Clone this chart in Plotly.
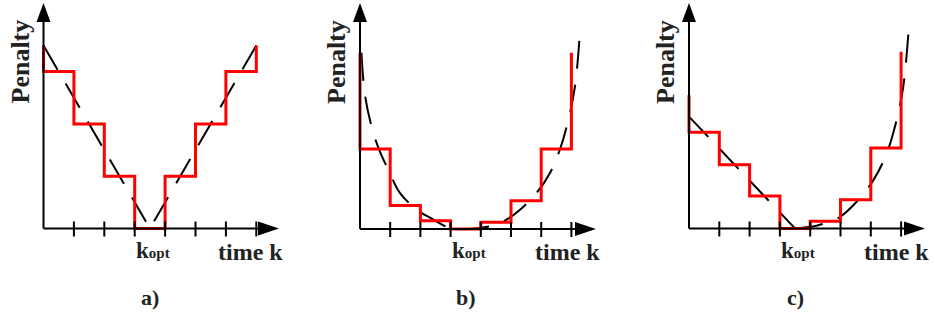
import plotly.graph_objects as go

W, H = 935, 320

# ---- data -------------------------------------------------------------
k_ticks = [1, 2, 3, 4, 5, 6, 7]

# a) penalty linear in |k - k_opt|
curve_a_k = [0, 3.5, 7]
curve_a_y = [3.5, 0.0, 3.5]
steps_a = [3, 2, 1, 0, 1, 2, 3]
start_a, end_a = 3.5, 3.5

# b) convex penalty
curve_b_k = [0.05, 0.17, 0.44, 0.66, 0.94, 1.32, 1.88, 2.43, 2.98, 3.6,
             4.30, 4.75, 5.30, 5.85, 6.29, 6.62, 6.90, 7.12, 7.28]
curve_b_y = [3.37, 2.54, 1.84, 1.48, 1.13, 0.69, 0.37, 0.18, 0.02, 0.0,
             0.05, 0.145, 0.37, 0.69, 1.07, 1.52, 2.09, 2.73, 3.75]
steps_b = [1.53, 0.45, 0.16, 0.0, 0.13, 0.54, 1.53]
start_b, end_b = 3.37, 3.37

# c) linear before k_opt, convex after
curve_c_left_k = [0.0, 3.5]
curve_c_left_y = [2.14, 0.0]
curve_c_right_k = [3.5, 4.27, 4.98, 5.53, 6.08, 6.52, 6.85, 7.07, 7.24]
curve_c_right_y = [0.0, 0.063, 0.22, 0.51, 0.92, 1.43, 2.07, 2.71, 3.73]
steps_c = [1.84, 1.22, 0.62, 0.0, 0.14, 0.55, 1.54]
start_c, end_c = 2.55, 3.38

panel_labels = ["a)", "b)", "c)"]

# ---- geometry (pixels) ------------------------------------------------
Y_UNIT = 52.3          # px per penalty unit
panels = [
    # px_left, px_right, origin_x, origin_y, px per k, x-arrow tip
    dict(l=0, r=310, ox=43.5, oy=228.5, dx=30.4, tip=279),
    dict(l=310, r=620, ox=360.0, oy=229.0, dx=30.2, tip=596),
    dict(l=620, r=935, ox=689.0, oy=228.5, dx=30.3, tip=925),
]

RED = "#ff0000"
DASH = "28px,16px"
SERIF = "Liberation Serif"


def P(px, py):
    return px / W, 1 - py / H


def step_trace(levels, start, end, xa, ya):
    xs = [0] + list(range(len(levels))) + [len(levels)]
    ys = [start] + list(levels) + [end]
    return go.Scatter(x=xs, y=ys, mode="lines", line_shape="hv",
                      line=dict(color=RED, width=3), xaxis=xa, yaxis=ya,
                      hoverinfo="skip")


def dashed(xs, ys, xa, ya, shape="linear"):
    return go.Scatter(x=xs, y=ys, mode="lines", line_shape=shape,
                      line=dict(color="black", width=2, dash=DASH),
                      xaxis=xa, yaxis=ya, hoverinfo="skip")


fig = go.Figure()
axes = [("x", "y"), ("x2", "y2"), ("x3", "y3")]

fig.add_trace(dashed(curve_a_k, curve_a_y, *axes[0]))
fig.add_trace(step_trace(steps_a, start_a, end_a, *axes[0]))

fig.add_trace(dashed(curve_b_k, curve_b_y, *axes[1], shape="spline"))
fig.add_trace(step_trace(steps_b, start_b, end_b, *axes[1]))

fig.add_trace(dashed(curve_c_left_k, curve_c_left_y, *axes[2]))
fig.add_trace(dashed(curve_c_right_k, curve_c_right_y, *axes[2], shape="spline"))
fig.add_trace(step_trace(steps_c, start_c, end_c, *axes[2]))

shapes = []
annotations = []
layout_axes = {}
for i, p in enumerate(panels):
    sfx = "" if i == 0 else str(i + 1)
    xa, ya = axes[i]
    layout_axes["xaxis" + sfx] = dict(
        domain=[p["l"] / W, p["r"] / W],
        range=[(p["l"] - p["ox"]) / p["dx"], (p["r"] - p["ox"]) / p["dx"]],
        visible=False, anchor=ya, fixedrange=True)
    layout_axes["yaxis" + sfx] = dict(
        domain=[0, 1],
        range=[-(H - p["oy"]) / Y_UNIT, p["oy"] / Y_UNIT],
        visible=False, anchor=xa, fixedrange=True)

    ox, oy, tip = p["ox"], p["oy"], p["tip"]
    # axis lines
    x0, y0 = P(ox, oy)
    x1, y1 = P(ox, 20)
    shapes.append(dict(type="line", xref="paper", yref="paper", x0=x0, y0=y0,
                       x1=x1, y1=y1, line=dict(color="black", width=2)))
    x2_, y2_ = P(tip - 19, oy)
    shapes.append(dict(type="line", xref="paper", yref="paper", x0=x0, y0=y0,
                       x1=x2_, y1=y2_, line=dict(color="black", width=2)))
    # arrow heads
    a1 = P(ox, 3); a2 = P(ox - 7, 22); a3 = P(ox + 7, 22)
    shapes.append(dict(type="path", xref="paper", yref="paper",
                       path=f"M {a1[0]},{a1[1]} L {a2[0]},{a2[1]} L {a3[0]},{a3[1]} Z",
                       fillcolor="black", line=dict(width=0)))
    b1 = P(tip, oy); b2 = P(tip - 21, oy - 7); b3 = P(tip - 21, oy + 7)
    shapes.append(dict(type="path", xref="paper", yref="paper",
                       path=f"M {b1[0]},{b1[1]} L {b2[0]},{b2[1]} L {b3[0]},{b3[1]} Z",
                       fillcolor="black", line=dict(width=0)))
    # tick marks crossing the time axis
    for k in k_ticks:
        shapes.append(dict(type="line", xref=xa, yref="paper", x0=k, x1=k,
                           y0=1 - (oy - 7) / H, y1=1 - (oy + 8) / H,
                           line=dict(color="black", width=2)))

    # texts
    px_pen = ox - 23
    annotations.append(dict(xref="paper", yref="paper", x=px_pen / W, y=1 - 62 / H,
                            text="<b>Penalty</b>", textangle=-90, showarrow=False,
                            xanchor="center", yanchor="middle",
                            font=dict(family=SERIF, size=26, color="#222")))
    annotations.append(dict(xref="paper", yref="paper", x=(tip - 29) / W, y=1 - 252 / H,
                            text="<b>time k</b>", showarrow=False,
                            xanchor="center", yanchor="middle",
                            font=dict(family=SERIF, size=24, color="#222")))
    annotations.append(dict(xref=xa, yref="paper", x=3.6, y=1 - 250 / H,
                            text="<b>k<span style='font-size:15px'>opt</span></b>",
                            showarrow=False, xanchor="center", yanchor="middle",
                            font=dict(family=SERIF, size=23, color="#222")))
    annotations.append(dict(xref=xa, yref="paper", x=3.5, y=1 - 297 / H,
                            text="<b>" + panel_labels[i] + "</b>", showarrow=False,
                            xanchor="center", yanchor="middle",
                            font=dict(family=SERIF, size=22, color="#222")))

fig.update_layout(
    width=W, height=H, margin=dict(l=0, r=0, t=0, b=0),
    paper_bgcolor="white", plot_bgcolor="rgba(0,0,0,0)",
    showlegend=False, shapes=shapes, annotations=annotations,
    **layout_axes,
)

fig.write_html("out.html")
